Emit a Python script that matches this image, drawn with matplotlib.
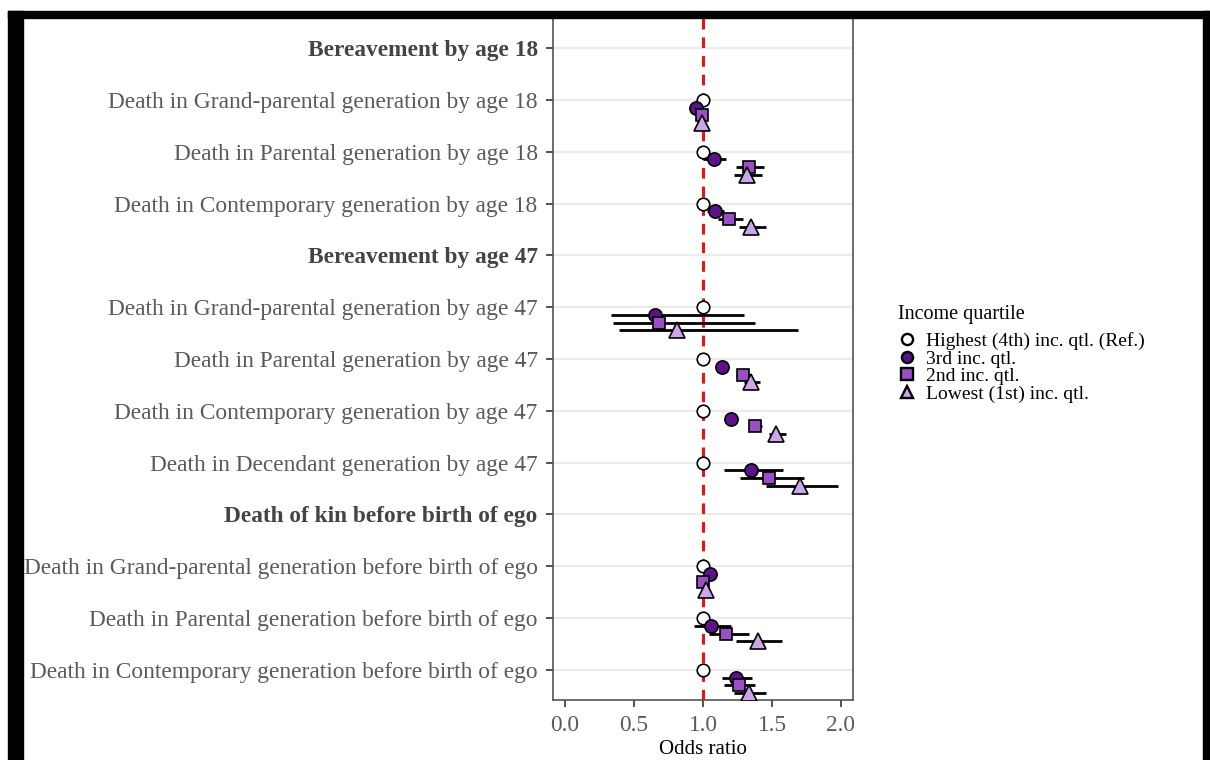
import numpy as np
import matplotlib.pyplot as plt
from matplotlib.patches import Rectangle
from matplotlib.lines import Line2D

plt.rcParams['font.family'] = ['Liberation Serif', 'DejaVu Serif']

# -------------------------
# Data
# -------------------------
row_labels = [
    "Bereavement by age 18",
    "Death in Grand-parental generation by age 18",
    "Death in Parental generation by age 18",
    "Death in Contemporary generation by age 18",
    "Bereavement by age 47",
    "Death in Grand-parental generation by age 47",
    "Death in Parental generation by age 47",
    "Death in Contemporary generation by age 47",
    "Death in Decendant generation by age 47",
    "Death of kin before birth of ego",
    "Death in Grand-parental generation before birth of ego",
    "Death in Parental generation before birth of ego",
    "Death in Contemporary generation before birth of ego",
]
header_rows = [0, 4, 9]

groups = ["Highest (4th) inc. qtl. (Ref.)", "3rd inc. qtl.", "2nd inc. qtl.", "Lowest (1st) inc. qtl."]

na = np.nan
or_ref = [na, 1.0, 1.0, 1.0, na, 1.0, 1.0, 1.0, 1.0, na, 1.0, 1.0, 1.0]

or_q3 = [na, 0.95, 1.08, 1.09, na, 0.65, 1.14, 1.20, 1.345, na, 1.05, 1.06, 1.24]
lo_q3 = [na, 0.92, 1.00, 1.03, na, 0.33, 1.11, 1.17, 1.15, na, 1.01, 0.935, 1.135]
hi_q3 = [na, 0.98, 1.17, 1.15, na, 1.30, 1.18, 1.24, 1.58, na, 1.09, 1.20, 1.355]

or_q2 = [na, 0.99, 1.335, 1.19, na, 0.68, 1.29, 1.375, 1.475, na, 1.00, 1.17, 1.26]
lo_q2 = [na, 0.96, 1.24, 1.11, na, 0.345, 1.24, 1.335, 1.27, na, 0.97, 1.04, 1.15]
hi_q2 = [na, 1.02, 1.44, 1.29, na, 1.38, 1.34, 1.43, 1.73, na, 1.03, 1.33, 1.38]

or_q1 = [na, 0.99, 1.32, 1.35, na, 0.81, 1.35, 1.53, 1.70, na, 1.02, 1.40, 1.335]
lo_q1 = [na, 0.96, 1.225, 1.26, na, 0.39, 1.30, 1.48, 1.46, na, 0.99, 1.24, 1.225]
hi_q1 = [na, 1.02, 1.43, 1.46, na, 1.69, 1.41, 1.60, 1.98, na, 1.05, 1.57, 1.46]

# -------------------------
# Styles
# -------------------------
fills = ["white", "#5C138A", "#9B4FC6", "#CCA6E8"]
markers = ["o", "o", "s", "^"]
sizes = [9, 9.5, 9, 11]
offsets = [0.0, 0.15, 0.30, 0.45]

fig = plt.figure(figsize=(12.1, 7.6), dpi=100)
ax = fig.add_axes([553 / 1210, 1 - 700 / 760, 300 / 1210, 682 / 760])

y = np.arange(len(row_labels))

ax.axvline(1.0, color="#ee1111", lw=2.2, ls=(0, (3.5, 2.6)), zorder=2)

est = [or_ref, or_q3, or_q2, or_q1]
los = [None, lo_q3, lo_q2, lo_q1]
his = [None, hi_q3, hi_q2, hi_q1]

for k in range(4):
    yy = y + offsets[k]
    if los[k] is not None:
        ax.hlines(yy, los[k], his[k], color="black", lw=2.0, zorder=3)
    ax.plot(est[k], yy, ls="none", marker=markers[k], ms=sizes[k],
            mfc=fills[k], mec="black", mew=1.2, zorder=4)

ax.set_xlim(-0.087, 2.087)
ax.set_ylim(len(row_labels) - 1 + 0.58, -0.58)
ax.set_xticks([0.0, 0.5, 1.0, 1.5, 2.0])
ax.set_xticklabels(["0.0", "0.5", "1.0", "1.5", "2.0"])
ax.set_yticks(y)
ax.set_yticklabels(row_labels)
for i, t in enumerate(ax.get_yticklabels()):
    if i in header_rows:
        t.set_fontweight("bold")
        t.set_color("#444444")
    else:
        t.set_color("#5a5a5a")

ax.tick_params(axis="both", labelsize=16.8, length=5, width=1.2, color="#333333")
ax.tick_params(axis="x", labelcolor="#5a5a5a", pad=6)
ax.tick_params(axis="y", pad=6)

ax.grid(axis="y", color="#ebebeb", lw=1.6)
ax.set_axisbelow(True)
for s in ax.spines.values():
    s.set_color("#555555")
    s.set_linewidth(1.2)

ax.set_xlabel("Odds ratio", fontsize=15, color="black", labelpad=3)

# legend
handles = [Line2D([], [], ls="none", marker=markers[k], ms=8, mfc=fills[k],
                  mec="black", mew=1.7) for k in range(4)]
leg = fig.legend(handles, groups, loc="upper left", bbox_to_anchor=(890 / 1210, 1 - 297 / 760),
                 frameon=False, fontsize=14, title="Income quartile", title_fontsize=14.5,
                 labelspacing=0.0, handletextpad=0.55, handlelength=0.9, borderaxespad=0)
leg._legend_box.align = "left"
leg._legend_box.sep = 6

# frame of the screenshot
fig.patches.append(Rectangle((8 / 1210, 0), 15 / 1210, 1 - 11 / 760, transform=fig.transFigure,
                             color="black", zorder=0))
fig.patches.append(Rectangle((8 / 1210, 1 - 18 / 760), 1202 / 1210, 7 / 760, transform=fig.transFigure,
                             color="black", zorder=0))
fig.patches.append(Rectangle((1203 / 1210, 0), 7 / 1210, 1 - 11 / 760, transform=fig.transFigure,
                             color="black", zorder=0))

fig.savefig("out.png", dpi=100)
